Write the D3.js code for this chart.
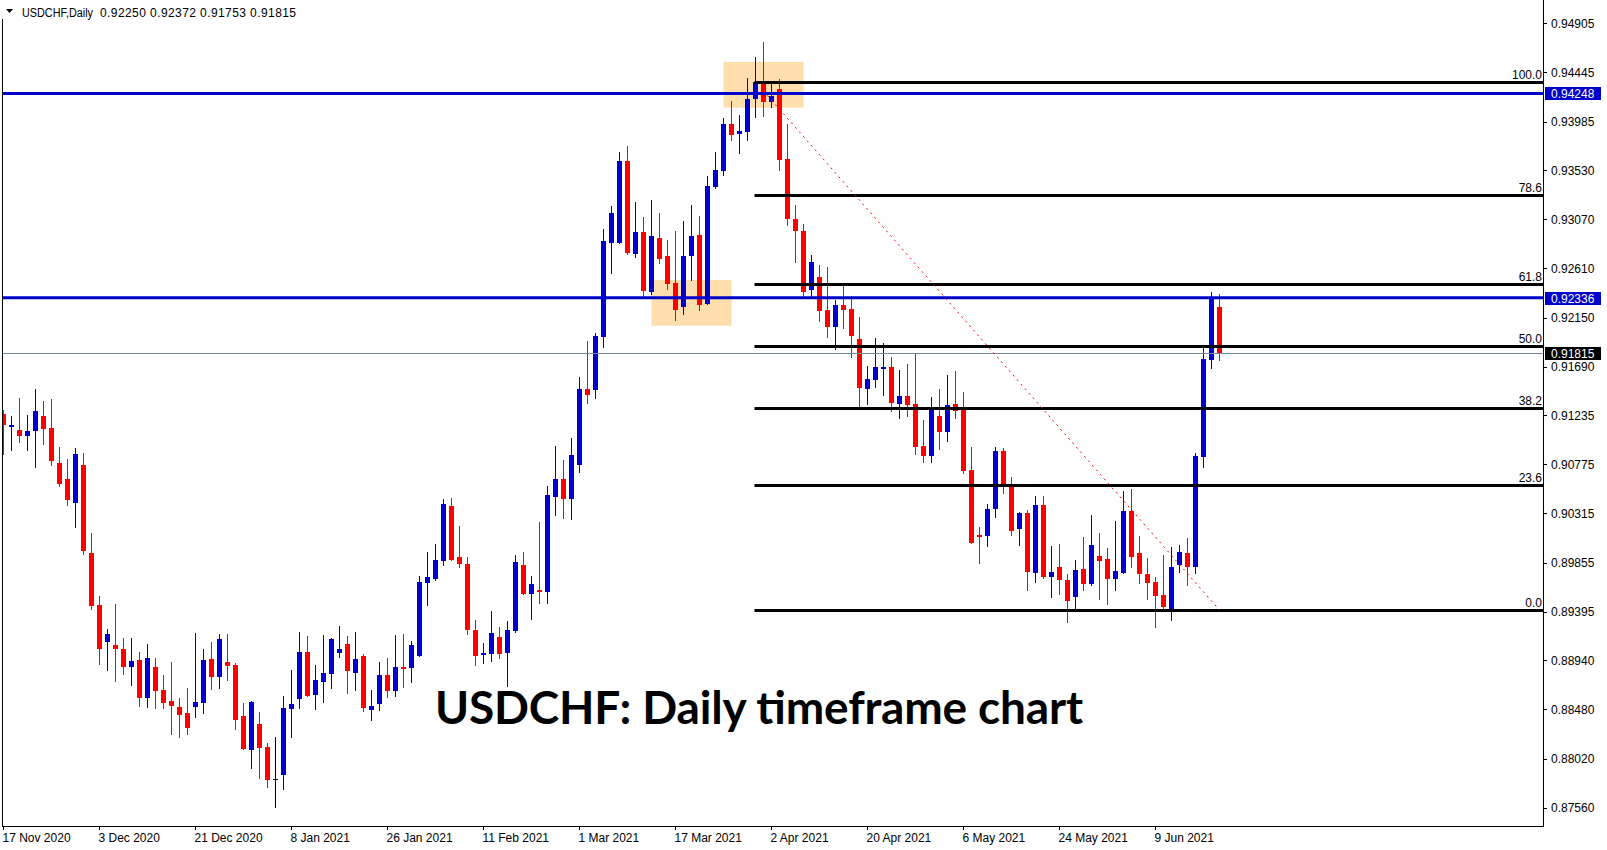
<!DOCTYPE html>
<html><head><meta charset="utf-8">
<script src="https://cdn.jsdelivr.net/npm/d3@7/dist/d3.min.js"></script>
<style>html,body{margin:0;padding:0;background:#fff;overflow:hidden}svg{display:block}</style>
</head><body><svg id="c" width="1607" height="850"></svg>
<script>
// ---------- DATA ----------
const symbolLabel = "USDCHF,Daily";
const headerValues = [0.92250, 0.92372, 0.91753, 0.91815];
const titleText = "USDCHF: Daily timeframe chart";

const opens = [0.91243,0.91125,0.91097,0.91040,0.91087,0.91228,0.91115,0.90788,0.90638,0.90413,
0.90769,0.89945,0.89458,0.89111,0.89083,0.89046,0.88877,0.88943,0.88587,0.88877,
0.88662,0.88559,0.88503,0.88447,0.88503,0.88540,0.88952,0.88784,0.88924,0.88896,
0.88418,0.88100,0.88344,0.88128,0.87825,0.87866,0.88484,0.88578,0.89018,0.88615,
0.88737,0.88812,0.89008,0.89093,0.88821,0.88980,0.88475,0.88531,0.88802,0.88653,
0.88877,0.88868,0.88980,0.89664,0.89701,0.89870,0.90385,0.89907,0.89842,0.89224,
0.88990,0.89003,0.89157,0.89013,0.89214,0.89832,0.89565,0.89598,0.89582,0.90471,
0.90638,0.90454,0.90772,0.91481,0.91474,0.91969,0.92852,0.92852,0.93615,0.92749,
0.92949,0.92392,0.92895,0.92726,0.92473,0.92252,0.92726,0.92923,0.92280,0.93375,
0.93525,0.93962,0.93868,0.93890,0.94196,0.94355,0.94168,0.94290,0.93634,0.93073,
0.92960,0.92408,0.92529,0.92220,0.92061,0.92267,0.92230,0.91949,0.91481,0.91565,
0.91668,0.91687,0.91340,0.91415,0.91340,0.90947,0.90853,0.91228,0.91078,0.91340,
0.91293,0.90722,0.90113,0.90104,0.90357,0.90900,0.90572,0.90170,0.90319,0.89758,
0.90394,0.89720,0.89814,0.89692,0.89533,0.89795,0.89655,0.89917,0.89889,0.89701,
0.89758,0.90338,0.89945,0.89748,0.89673,0.89552,0.89420,0.89832,0.89945,0.89814,
0.90844,0.91752,0.92250];
const highs = [0.91284,0.91228,0.91396,0.91237,0.91480,0.91368,0.91387,0.90937,0.90825,0.90928,
0.90881,0.90132,0.89542,0.89233,0.89467,0.89149,0.89149,0.89018,0.89093,0.88961,
0.88802,0.88924,0.88587,0.88681,0.89196,0.89046,0.89111,0.89186,0.89186,0.88915,
0.88540,0.88559,0.88456,0.88166,0.88222,0.88606,0.88849,0.89205,0.89168,0.88896,
0.89177,0.89149,0.89261,0.89168,0.89205,0.88999,0.88662,0.88924,0.88962,0.89177,
0.89186,0.89121,0.89729,0.89954,0.90029,0.90450,0.90460,0.90198,0.89907,0.89317,
0.89102,0.89401,0.89250,0.89307,0.89926,0.89953,0.89729,0.90234,0.90572,0.90946,
0.90816,0.91023,0.91592,0.91929,0.92006,0.92979,0.93193,0.93698,0.93755,0.93230,
0.93090,0.93250,0.93129,0.92876,0.92960,0.93054,0.93204,0.93101,0.93475,0.93700,
0.94018,0.94177,0.94046,0.94393,0.94589,0.94730,0.94346,0.94384,0.93962,0.93204,
0.93026,0.92735,0.92640,0.92620,0.92314,0.92445,0.92351,0.92155,0.91696,0.91958,
0.91911,0.91780,0.91658,0.91715,0.91818,0.91190,0.91406,0.91481,0.91612,0.91649,
0.91452,0.90937,0.90188,0.90404,0.90937,0.90928,0.90656,0.90329,0.90347,0.90479,
0.90479,0.90010,0.90029,0.89748,0.89879,0.90095,0.90301,0.90132,0.89992,0.90244,
0.90525,0.90544,0.90104,0.89898,0.89720,0.89926,0.90001,0.90020,0.90085,0.90881,
0.91864,0.92389,0.92372];
const lows = [0.90872,0.90909,0.90984,0.90909,0.90750,0.90965,0.90769,0.90572,0.90394,0.90188,
0.89935,0.89420,0.88905,0.88849,0.88746,0.88812,0.88709,0.88512,0.88503,0.88493,
0.88493,0.88250,0.88222,0.88250,0.88409,0.88447,0.88671,0.88681,0.88756,0.88297,
0.88109,0.87932,0.87838,0.87754,0.87566,0.87735,0.88222,0.88493,0.88606,0.88484,
0.88550,0.88681,0.88971,0.88634,0.88662,0.88465,0.88381,0.88475,0.88596,0.88606,
0.88690,0.88737,0.88980,0.89458,0.89692,0.89832,0.89879,0.89814,0.89186,0.88896,
0.88915,0.88936,0.88966,0.88702,0.89207,0.89565,0.89331,0.89481,0.89481,0.90304,
0.90277,0.90267,0.90705,0.91354,0.91401,0.91876,0.92568,0.92852,0.92745,0.92712,
0.92341,0.92373,0.92660,0.92417,0.92130,0.92186,0.92501,0.92223,0.92280,0.93366,
0.93488,0.93812,0.93691,0.93812,0.94028,0.94037,0.94121,0.93531,0.93016,0.92670,
0.92345,0.92352,0.92117,0.91968,0.91855,0.92052,0.91780,0.91312,0.91340,0.91499,
0.91424,0.91275,0.91209,0.91228,0.90872,0.90797,0.90797,0.90919,0.90994,0.91209,
0.90694,0.90038,0.89851,0.90010,0.90282,0.90507,0.90113,0.90020,0.89598,0.89673,
0.89711,0.89533,0.89561,0.89299,0.89420,0.89598,0.89645,0.89516,0.89467,0.89598,
0.89758,0.89814,0.89664,0.89514,0.89252,0.89420,0.89317,0.89767,0.89645,0.89758,
0.90750,0.91677,0.91753];
const closes = [0.91143,0.91143,0.91040,0.91087,0.91275,0.91106,0.90806,0.90591,0.90441,0.90872,
0.89963,0.89448,0.89046,0.89186,0.89046,0.88877,0.88933,0.88587,0.88961,0.88652,
0.88540,0.88512,0.88428,0.88306,0.88550,0.88943,0.88784,0.89140,0.88887,0.88381,
0.88109,0.88550,0.88119,0.87819,0.87825,0.88493,0.88531,0.89018,0.88606,0.88756,
0.88821,0.89139,0.89046,0.88840,0.88952,0.88493,0.88512,0.88802,0.88653,0.88877,
0.88859,0.89083,0.89673,0.89720,0.89879,0.90404,0.89879,0.89842,0.89224,0.88980,
0.89008,0.89197,0.89003,0.89224,0.89859,0.89565,0.89655,0.89582,0.90488,0.90638,
0.90454,0.90862,0.91481,0.91428,0.91976,0.92866,0.93130,0.93615,0.92755,0.92949,
0.92401,0.92913,0.92698,0.92464,0.92223,0.92726,0.92913,0.92270,0.93382,0.93531,
0.93962,0.93859,0.93897,0.94196,0.94355,0.94168,0.94224,0.93625,0.93073,0.92960,
0.92392,0.92670,0.92211,0.92061,0.92267,0.92220,0.91977,0.91490,0.91574,0.91687,
0.91687,0.91349,0.91415,0.91331,0.90937,0.90853,0.91293,0.91078,0.91331,0.91275,
0.90713,0.90038,0.90095,0.90357,0.90900,0.90591,0.90151,0.90319,0.89767,0.90394,
0.89720,0.89767,0.89692,0.89495,0.89786,0.89655,0.90020,0.89870,0.89701,0.89776,
0.90338,0.89907,0.89748,0.89664,0.89542,0.89439,0.89814,0.89954,0.89814,0.90853,
0.91761,0.92323,0.91815];

const dateLabels = ["17 Nov 2020","3 Dec 2020","21 Dec 2020","8 Jan 2021","26 Jan 2021","11 Feb 2021",
"1 Mar 2021","17 Mar 2021","2 Apr 2021","20 Apr 2021","6 May 2021","24 May 2021","9 Jun 2021"];
const dateLabelBars = [0,12,24,36,48,60,72,84,96,108,120,132,144];
const priceTicks = [0.94905,0.94445,0.93985,0.93530,0.93070,0.92610,0.92150,0.91690,0.91235,
0.90775,0.90315,0.89855,0.89395,0.88940,0.88480,0.88020,0.87560];

const fibLevels = [0.0, 23.6, 38.2, 50.0, 61.8, 78.6, 100.0];
const fibPrices = [0.89411, 0.94355];   // 0% and 100%
const fibStartBar = 94;
const levelLines = [0.94248, 0.92336];
const bidPrice = 0.91815;
const zoneStartBar = [90, 81];
const zoneEndBar = [100, 91];
const zoneTop = [0.94543, 0.92501];
const zoneBottom = [0.94115, 0.92073];
const trendBars = [95, 152];
const trendPrices = [0.94271, 0.89411];

// ---------- DRAW ----------
const BLUE = "#0000CC", RED = "#FF0000";
const FONT = "'Liberation Sans', Arial, sans-serif";
const svg = d3.select("#c");
const axisX = 1543, bottomY = 826, leftX = 2;
const x = d3.scaleLinear().domain([0, 152]).range([3.5, 1219.5]);
const y = d3.scaleLinear().domain([0.87560, 0.94905]).range([807.7, 23.3]);

svg.append("rect").attr("width",1607).attr("height",850).attr("fill","#fff");
svg.append("defs").append("clipPath").attr("id","clip")
  .append("rect").attr("x",leftX+1).attr("y",0).attr("width",axisX-leftX-1).attr("height",bottomY);

const plot = svg.append("g").attr("clip-path","url(#clip)");

// zones
plot.append("g").selectAll("rect").data(d3.range(zoneStartBar.length)).join("rect")
  .attr("x", i => x(zoneStartBar[i]))
  .attr("width", i => x(zoneEndBar[i]) - x(zoneStartBar[i]))
  .attr("y", i => y(zoneTop[i]))
  .attr("height", i => y(zoneBottom[i]) - y(zoneTop[i]))
  .attr("fill", "#FFDEAD");

// candles
const bars = d3.range(opens.length).map(i => ({i, o:opens[i], h:highs[i], l:lows[i], c:closes[i]}));
const col = d => d.c > d.o ? BLUE : (d.c < d.o ? RED : "#000");
const cg = plot.append("g").attr("shape-rendering","crispEdges");
cg.selectAll("rect.w").data(bars).join("rect").attr("class","w")
  .attr("x", d => x(d.i) - 0.5).attr("width", 1)
  .attr("y", d => Math.round(y(d.h)))
  .attr("height", d => Math.max(1, Math.round(y(d.l)) - Math.round(y(d.h)) + 1))
  .attr("fill", col);
cg.selectAll("rect.b").data(bars).join("rect").attr("class","b")
  .attr("x", d => x(d.i) - 2.5).attr("width", 5)
  .attr("y", d => Math.round(y(Math.max(d.o, d.c))))
  .attr("height", d => Math.max(1, Math.round(y(Math.min(d.o, d.c))) - Math.round(y(Math.max(d.o, d.c)))))
  .attr("fill", col);

// horizontal level lines
plot.append("g").selectAll("line").data(levelLines).join("line")
  .attr("x1", leftX).attr("x2", axisX)
  .attr("y1", d => y(d)).attr("y2", d => y(d))
  .attr("stroke", BLUE).attr("stroke-width", 3);

// bid line
plot.append("line").attr("x1", leftX).attr("x2", axisX)
  .attr("y1", Math.round(y(bidPrice)) + 0.5).attr("y2", Math.round(y(bidPrice)) + 0.5)
  .attr("stroke", "#778899").attr("stroke-width", 1);

// fibonacci
const fibPrice = lv => fibPrices[0] + lv / 100 * (fibPrices[1] - fibPrices[0]);
const fg = plot.append("g");
fg.selectAll("line").data(fibLevels).join("line")
  .attr("x1", x(fibStartBar) - 1).attr("x2", axisX)
  .attr("y1", d => Math.round(y(fibPrice(d))) + 0.5).attr("y2", d => Math.round(y(fibPrice(d))) + 0.5)
  .attr("stroke", "#000").attr("stroke-width", 3);
fg.selectAll("text").data(fibLevels).join("text")
  .attr("x", axisX - 1).attr("y", d => Math.round(y(fibPrice(d))) - 3)
  .attr("text-anchor", "end").attr("font-family", FONT).attr("font-size", 12)
  .attr("fill", "#000").text(d => d.toFixed(1));

// trend line
plot.append("line")
  .attr("x1", x(trendBars[0])).attr("y1", y(trendPrices[0]))
  .attr("x2", x(trendBars[1])).attr("y2", y(trendPrices[1]))
  .attr("stroke", RED).attr("stroke-width", 1).attr("stroke-dasharray", "2,4");

// frame
const fr = svg.append("g").attr("shape-rendering","crispEdges");
fr.append("line").attr("x1", leftX + .5).attr("x2", leftX + .5).attr("y1", 19).attr("y2", bottomY + 1).attr("stroke", "#000");
fr.append("line").attr("x1", axisX + .5).attr("x2", axisX + .5).attr("y1", 0).attr("y2", bottomY + 1).attr("stroke", "#000");
fr.append("line").attr("x1", leftX).attr("x2", axisX + 1).attr("y1", bottomY + .5).attr("y2", bottomY + .5).attr("stroke", "#000");

// price axis
const pa = svg.append("g");
pa.selectAll("line").data(priceTicks).join("line")
  .attr("shape-rendering","crispEdges")
  .attr("x1", axisX).attr("x2", axisX + 4)
  .attr("y1", d => Math.round(y(d)) + .5).attr("y2", d => Math.round(y(d)) + .5)
  .attr("stroke", "#000");
pa.selectAll("text").data(priceTicks).join("text")
  .attr("x", axisX + 8).attr("y", d => y(d) + 4.5)
  .attr("font-family", FONT).attr("font-size", 12).attr("fill", "#000")
  .text(d => d.toFixed(5));

// price tags
const tags = levelLines.map(p => ({p, fill: BLUE})).concat([{p: bidPrice, fill: "#000"}]);
const tg = svg.append("g");
tg.selectAll("rect").data(tags).join("rect")
  .attr("x", axisX + 2).attr("width", 56)
  .attr("y", d => Math.round(y(d.p)) - 6).attr("height", 13)
  .attr("fill", d => d.fill);
tg.selectAll("text").data(tags).join("text")
  .attr("x", axisX + 8).attr("y", d => Math.round(y(d.p)) + 5)
  .attr("font-family", FONT).attr("font-size", 12).attr("fill", "#fff")
  .text(d => d.p.toFixed(5));

// date axis
const da = svg.append("g");
da.selectAll("line").data(dateLabelBars).join("line")
  .attr("shape-rendering","crispEdges")
  .attr("x1", d => x(d)).attr("x2", d => x(d))
  .attr("y1", bottomY).attr("y2", bottomY + 4).attr("stroke", "#000");
da.selectAll("text").data(dateLabelBars).join("text")
  .attr("x", d => x(d) - 1).attr("y", 842)
  .attr("font-family", FONT).attr("font-size", 12).attr("fill", "#000")
  .text((d, i) => dateLabels[i]);

// header
svg.append("path").attr("d", "M6,9L13,9L9.5,13Z").attr("fill", "#000");
svg.append("text").attr("x", 22).attr("y", 17).attr("font-family", FONT).attr("font-size", 12)
  .attr("fill", "#000").attr("textLength", 71).attr("lengthAdjust", "spacingAndGlyphs").text(symbolLabel);
svg.append("text").attr("x", 100).attr("y", 17).attr("font-family", FONT).attr("font-size", 12)
  .attr("fill", "#000").attr("textLength", 196).attr("lengthAdjust", "spacing")
  .text(headerValues.map(v => v.toFixed(5)).join(" "));

// title
svg.append("text").attr("x", 435).attr("y", 724)
  .attr("font-family", "Lato, 'Open Sans', sans-serif").attr("font-weight", 700)
  .attr("font-size", 46).attr("fill", "#000").attr("textLength", 648).attr("lengthAdjust", "spacing")
  .text(titleText);
</script></body></html>
